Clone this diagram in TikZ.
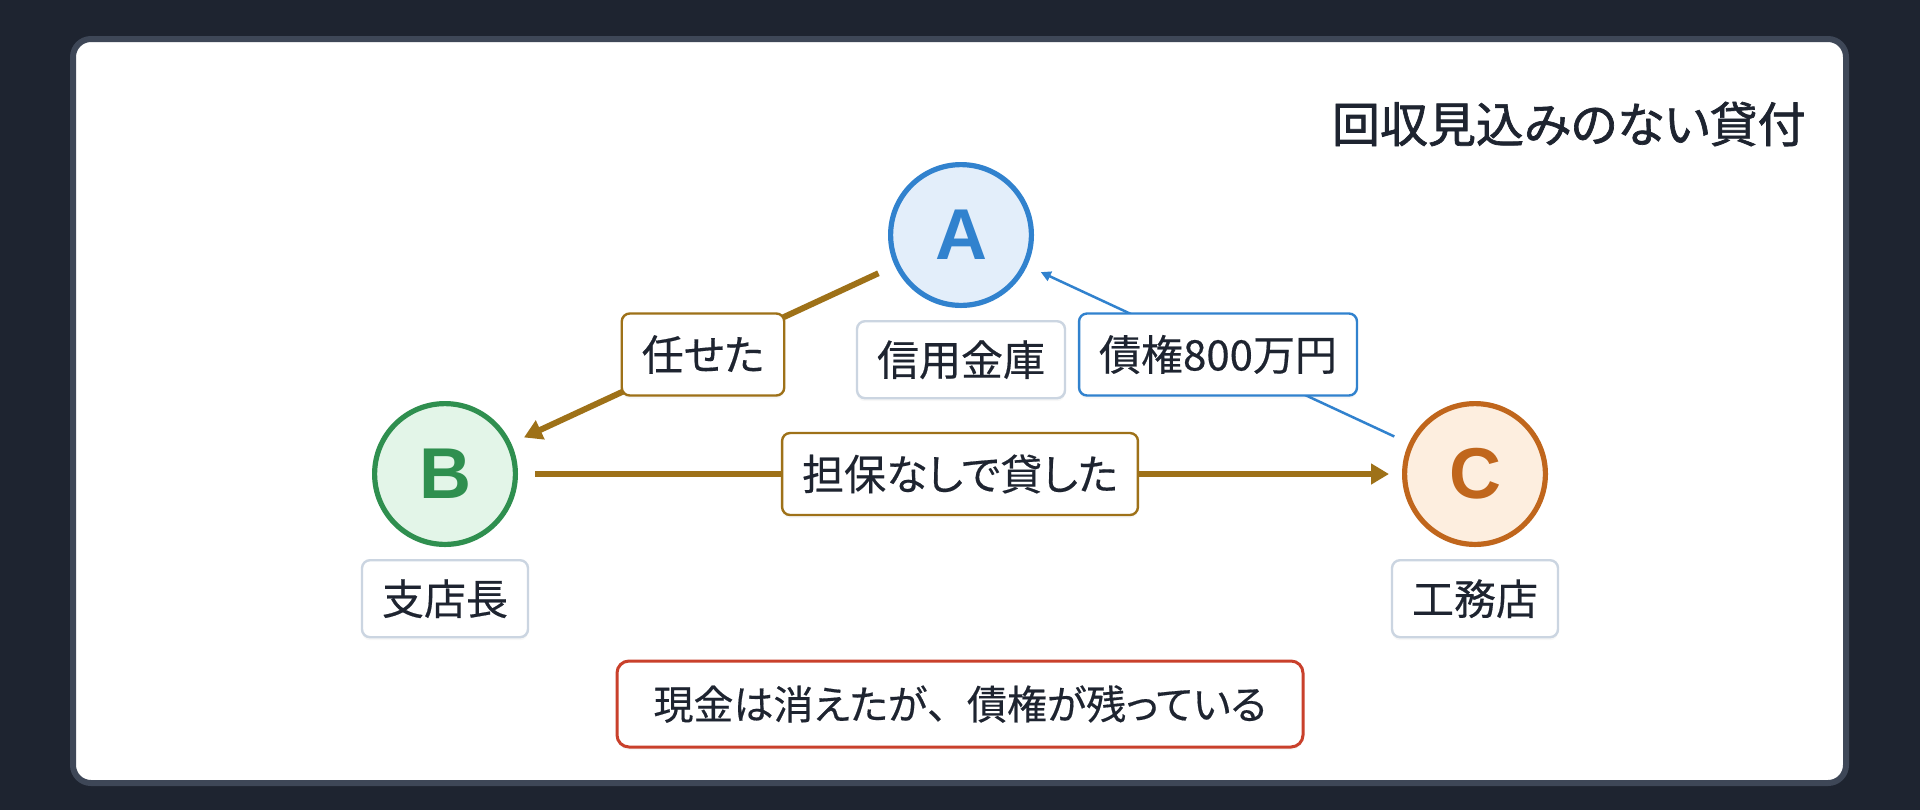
\documentclass[tikz,border=0pt]{standalone}
\usepackage{fontspec}
\setmainfont{Noto Sans CJK JP}[RawFeature=+palt, FakeBold=0.4]
\newfontfamily\ttlfont{Noto Sans CJK JP}[RawFeature=+palt, FakeBold=1.4]
\newfontfamily\letfont{Liberation Sans}
\usetikzlibrary{positioning,arrows.meta,shadows}
\definecolor{bgdark}{HTML}{1E2430}
\definecolor{frame}{HTML}{3E4757}
\definecolor{ink}{HTML}{1E2430}
\definecolor{bankc}{HTML}{3182CE}
\definecolor{bankf}{HTML}{E3EEFA}
\definecolor{mgrc}{HTML}{2F8F4F}
\definecolor{mgrf}{HTML}{E3F5E8}
\definecolor{firmc}{HTML}{C0661C}
\definecolor{firmf}{HTML}{FDEEDF}
\definecolor{brn}{HTML}{9E7118}
\definecolor{lgray}{HTML}{CBD5E1}
\definecolor{redc}{HTML}{C9402B}
\tikzstyle{circ}=[circle, line width=2.6pt, minimum size=70.4pt, inner sep=0pt,
font=\letfont\bfseries\fontsize{36}{36}\selectfont, drop shadow={opacity=0.07, shadow xshift=0pt, shadow yshift=-1.5pt}]
\tikzstyle{namebox}=[rectangle, rounded corners=4pt, draw=lgray, fill=white, line width=1.2pt, minimum height=38.5pt,
inner xsep=10pt, text=ink, font=\fontsize{21}{21}\selectfont, drop shadow={opacity=0.06, shadow xshift=0pt, shadow yshift=-1.5pt}]
\tikzstyle{edgebox}=[namebox, minimum height=41pt]
\tikzstyle{notebox}=[namebox, draw=redc, line width=1.5pt, rounded corners=6pt, minimum height=43pt, minimum width=343pt, font=\fontsize{20}{20}\selectfont]
\tikzstyle{line}=[-{Triangle[length=9pt,width=10pt]}, line width=3pt, brn]
\tikzstyle{bline}=[-{Triangle[length=5pt,width=5pt]}, line width=1.25pt, bankc]

\begin{document}
\begin{tikzpicture}[node distance=0mm]
\useasboundingbox (0,0) rectangle (960pt,-405pt);
\fill[bgdark] (0,0) rectangle (960pt,-405pt);
\draw[frame, line width=3pt, fill=white, rounded corners=9pt] (36.5pt,-19.5pt) rectangle (923pt,-391.5pt);

    \node (ttl) [anchor=east, inner sep=0pt, text=ink, font=\ttlfont\fontsize{24}{24}\selectfont] at (903pt,-62pt) {回収見込みのない貸付};

    \node (bank) [circ, draw=bankc, fill=bankf, text=bankc] at (480.5pt,-117.5pt) {A};
    \node (mgr) [circ, draw=mgrc, fill=mgrf, text=mgrc] at (222.5pt,-237pt) {B};
    \node (firm) [circ, draw=firmc, fill=firmf, text=firmc] at (737.5pt,-237pt) {C};

    \node (bankl) [namebox, below=6pt of bank] {信用金庫};
    \node (mgrl) [namebox, below=6pt of mgr] {支店長};
    \node (firml) [namebox, below=6pt of firm] {工務店};

    \node (note) [notebox] at (480pt,-352pt) {現金は消えたが{\addfontfeatures{RawFeature=-palt}、}債権が残っている};
%Lines ..

   \draw[line, shorten <=9pt, shorten >=7pt] (bank) -- node[edgebox, draw=brn] (tsk) {任せた} (mgr);
   \draw[line, shorten <=8.5pt, shorten >=6.5pt] (mgr) -- node[edgebox, draw=brn] (loan) {担保なしで貸した} (firm);
   \draw[bline, shorten <=8pt, shorten >=7.5pt] (firm) -- node[edgebox, draw=bankc] (claim) {債権800万円} (bank);

\end{tikzpicture}
\end{document}
